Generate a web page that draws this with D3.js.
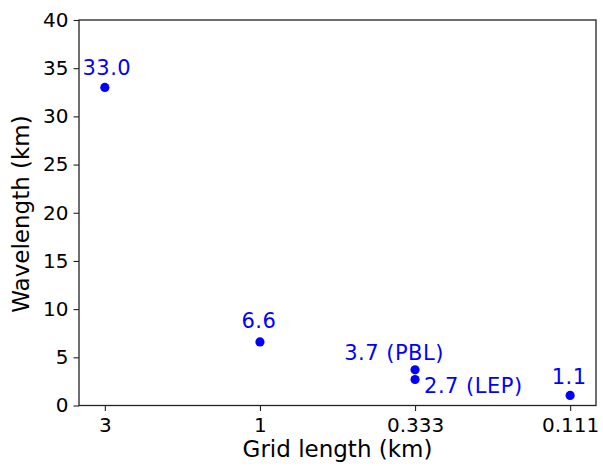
<!DOCTYPE html>
<html>
<head>
<meta charset="utf-8">
<script src="https://cdn.jsdelivr.net/npm/d3@7"></script>
<style>
  body { margin: 0; background: #fff; }
  svg { display: block; }
</style>
</head>
<body>
<svg id="chart" width="603" height="466"></svg>
<script>
// data
const gridLengths = [3, 1, 1 / 3, 1 / 3, 1 / 9];
const wavelengths = [33.0, 6.6, 3.7, 2.7, 1.05];
const pointLabels = ['33.0', '6.6', '3.7 (PBL)', '2.7 (LEP)', '1.1'];
const xTickValues = [3, 1, 1 / 3, 1 / 9];
const xTickLabels = ['3', '1', '0.333', '0.111'];
const yTickValues = [0, 5, 10, 15, 20, 25, 30, 35, 40];

// label placement (dx, dy from point, anchor)
const labelPlacement = [
  { dx: 2, dy: -12, anchor: 'middle' },
  { dx: -1, dy: -14, anchor: 'middle' },
  { dx: -21, dy: -10, anchor: 'middle' },
  { dx: 9, dy: 14, anchor: 'start' },
  { dx: -1, dy: -11, anchor: 'middle' }
];

const svg = d3.select('#chart');
const mLeft = 79, mRight = 596, mTop = 20, mBottom = 405.5;

// log axis, reversed, with matplotlib-like 5% margins
const pad = Math.pow(27, 0.05 / 0.9);
const x = d3.scaleLog()
  .domain([3 * pad, (1 / 9) / pad])
  .range([mLeft, mRight]);
const y = d3.scaleLinear().domain([0, 40]).range([mBottom, mTop]);

const font = 'DejaVu Sans, sans-serif';

// x axis
const xAxis = svg.append('g')
  .attr('transform', `translate(0,${mBottom})`)
  .call(d3.axisBottom(x).tickValues(xTickValues)
    .tickFormat((d, i) => xTickLabels[i]).tickSize(5.5).tickPadding(7));
xAxis.select('.domain').remove();
xAxis.selectAll('text').attr('font-family', font).attr('font-size', 20).attr('fill', '#000');
xAxis.selectAll('line').attr('stroke', '#222').attr('stroke-width', 1.1);

// y axis
const yAxis = svg.append('g')
  .attr('transform', `translate(${mLeft},0)`)
  .call(d3.axisLeft(y).tickValues(yTickValues).tickSize(5.5).tickPadding(5));
yAxis.select('.domain').remove();
yAxis.selectAll('text').attr('font-family', font).attr('font-size', 20).attr('fill', '#000');
yAxis.selectAll('line').attr('stroke', '#222').attr('stroke-width', 1.1);

// frame
svg.append('rect')
  .attr('x', mLeft).attr('y', mTop)
  .attr('width', mRight - mLeft).attr('height', mBottom - mTop)
  .attr('fill', 'none').attr('stroke', '#222').attr('stroke-width', 1.3);

// points
const pts = gridLengths.map((g, i) => ({ g: g, w: wavelengths[i], label: pointLabels[i], pos: labelPlacement[i] }));

svg.append('g').selectAll('circle')
  .data(pts)
  .enter()
  .append('circle')
  .attr('cx', d => x(d.g))
  .attr('cy', d => y(d.w))
  .attr('r', 4.6)
  .attr('fill', '#0000ff');

svg.append('g').selectAll('text')
  .data(pts)
  .enter()
  .append('text')
  .attr('x', d => x(d.g) + d.pos.dx)
  .attr('y', d => y(d.w) + d.pos.dy)
  .attr('text-anchor', d => d.pos.anchor)
  .attr('font-family', font)
  .attr('font-size', 21)
  .attr('letter-spacing', 0.5)
  .attr('fill', '#0000ff')
  .text(d => d.label);

// axis titles
svg.append('text')
  .attr('x', (mLeft + mRight) / 2)
  .attr('y', 456.5)
  .attr('text-anchor', 'middle')
  .attr('font-family', font)
  .attr('font-size', 23)
  .text('Grid length (km)');

svg.append('text')
  .attr('transform', `translate(28.5,214) rotate(-90)`)
  .attr('text-anchor', 'middle')
  .attr('font-family', font)
  .attr('font-size', 23)
  .text('Wavelength (km)');
</script>
</body>
</html>
